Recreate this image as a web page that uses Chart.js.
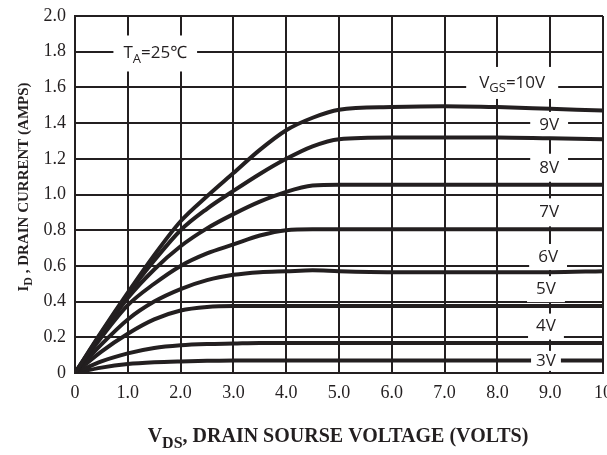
<!DOCTYPE html>
<html>
<head>
<meta charset="utf-8">
<script src="https://cdn.jsdelivr.net/npm/chart.js@4.4.1/dist/chart.umd.min.js"></script>
<style>
  html, body { margin: 0; padding: 0; background: #fff; }
  #wrap { width: 607px; height: 455px; }
</style>
</head>
<body>
<div id="wrap"><canvas id="c" width="607" height="455"></canvas></div>
<script>
// ---- data ----
const vds = [0, 0.5, 1, 1.5, 2, 2.5, 3, 3.5, 4, 4.5, 5, 6, 7, 8, 9, 10];
const id10V = [0, 0.23, 0.45, 0.66, 0.85, 0.99, 1.12, 1.25, 1.36, 1.43, 1.475, 1.49, 1.495, 1.49, 1.48, 1.47];
const id9V  = [0, 0.225, 0.44, 0.63, 0.80, 0.92, 1.02, 1.115, 1.20, 1.27, 1.31, 1.32, 1.32, 1.32, 1.315, 1.31];
const id8V  = [0, 0.215, 0.42, 0.58, 0.71, 0.81, 0.89, 0.96, 1.015, 1.05, 1.055, 1.055, 1.055, 1.055, 1.055, 1.055];
const id7V  = [0, 0.20, 0.38, 0.50, 0.60, 0.67, 0.72, 0.77, 0.80, 0.805, 0.805, 0.805, 0.805, 0.805, 0.805, 0.805];
const id6V  = [0, 0.16, 0.30, 0.40, 0.47, 0.52, 0.55, 0.565, 0.57, 0.575, 0.57, 0.565, 0.565, 0.565, 0.565, 0.57];
const id5V  = [0, 0.12, 0.22, 0.30, 0.35, 0.37, 0.375, 0.375, 0.375, 0.375, 0.375, 0.375, 0.375, 0.375, 0.375, 0.375];
const id4V  = [0, 0.065, 0.11, 0.14, 0.155, 0.162, 0.165, 0.168, 0.168, 0.168, 0.168, 0.168, 0.168, 0.168, 0.168, 0.168];
const id3V  = [0, 0.03, 0.05, 0.06, 0.065, 0.068, 0.07, 0.07, 0.07, 0.07, 0.07, 0.07, 0.07, 0.07, 0.07, 0.07];
const seriesNames = ['10V', '9V', '8V', '7V', '6V', '5V', '4V', '3V'];
const seriesValues = [id10V, id9V, id8V, id7V, id6V, id5V, id4V, id3V];
const xTickLabels = ['0', '1.0', '2.0', '3.0', '4.0', '5.0', '6.0', '7.0', '8.0', '9.0', '10'];
const yTickLabels = ['0', '0.2', '0.4', '0.6', '0.8', '1.0', '1.2', '1.4', '1.6', '1.8', '2.0'];

// ---- styles ----
const INK = '#231f20';
const SANS = '"Open Sans", "Noto Sans", sans-serif';
const SERIF = '"Liberation Serif", "Times New Roman", serif';
const LABEL_SIZE = 17;

// annotation labels (parts: [text, isSub]) at data coordinates
const curveLabels = [
  { parts: [['V', 0], ['GS', 1], ['=10V', 0]], x: 8.28, y: 1.625, padX: 13, h: 32, front: false },
  { parts: [['9V', 0]], x: 8.98, y: 1.39, padX: 9, h: 26, front: false },
  { parts: [['8V', 0]], x: 8.98, y: 1.15, padX: 9, h: 28, front: false },
  { parts: [['7V', 0]], x: 8.98, y: 0.90, padX: 9, h: 28, front: false },
  { parts: [['6V', 0]], x: 8.96, y: 0.65, padX: 9, h: 26, front: false },
  { parts: [['5V', 0]], x: 8.92, y: 0.47, padX: 9, h: 26, front: false },
  { parts: [['4V', 0]], x: 8.92, y: 0.26, padX: 8, h: 26, front: false },
  { parts: [['3V', 0]], x: 8.92, y: 0.068, padX: 5, h: 20, front: true },
  { parts: [['T', 0], ['A', 1], ['=25\u2103', 0]], x: 1.52, y: 1.79, padX: 10, h: 36, front: false }
];

function richWidth(ctx, parts, size, family, weight) {
  let w = 0;
  for (const [t, sub] of parts) {
    ctx.font = (weight || '') + ' ' + (sub ? Math.round(size * 0.78) : size) + 'px ' + family;
    w += ctx.measureText(t).width;
  }
  return w;
}
function drawRich(ctx, parts, cx, cy, size, family, weight) {
  const total = richWidth(ctx, parts, size, family, weight);
  let x = cx - total / 2;
  ctx.textAlign = 'left';
  ctx.textBaseline = 'middle';
  for (const [t, sub] of parts) {
    const s = sub ? Math.round(size * 0.78) : size;
    ctx.font = (weight || '') + ' ' + s + 'px ' + family;
    ctx.fillText(t, x, cy + (sub ? size * 0.32 : 0));
    x += ctx.measureText(t).width;
  }
  return total;
}
function drawLabels(chart, front) {
  const ctx = chart.ctx;
  const xs = chart.scales.x, ys = chart.scales.y;
  ctx.save();
  for (const L of curveLabels) {
    if (L.front !== front) continue;
    const cx = xs.getPixelForValue(L.x), cy = ys.getPixelForValue(L.y);
    const w = richWidth(ctx, L.parts, LABEL_SIZE, SANS, '');
    ctx.fillStyle = '#fff';
    ctx.fillRect(cx - w / 2 - L.padX, cy - L.h / 2, w + 2 * L.padX, L.h);
    ctx.fillStyle = INK;
    drawRich(ctx, L.parts, cx, cy, LABEL_SIZE, SANS, '');
  }
  ctx.restore();
}

const annotatePlugin = {
  id: 'annotate',
  beforeDatasetsDraw(chart) { drawLabels(chart, false); },
  afterDatasetsDraw(chart) { drawLabels(chart, true); },
  afterDraw(chart) {
    const ctx = chart.ctx;
    const a = chart.chartArea;
    ctx.save();
    ctx.fillStyle = INK;
    // x axis title
    drawRich(ctx, [['V', 0], ['DS', 1], [', DRAIN SOURSE VOLTAGE (VOLTS)', 0]],
      (a.left + a.right) / 2 - 1, 437, 20, SERIF, 'bold');
    // y axis title (rotated)
    ctx.translate(24, 187);
    ctx.rotate(-Math.PI / 2);
    drawRich(ctx, [['I', 0], ['D', 1], [' , DRAIN CURRENT (AMPS)', 0]], 0, 0, 15, SERIF, 'bold');
    ctx.restore();
  }
};

const datasets = seriesNames.map((name, i) => ({
  label: 'VGS=' + name,
  data: vds.map((v, j) => ({ x: v, y: seriesValues[i][j] })),
  borderColor: INK,
  borderWidth: 4,
  pointRadius: 0,
  fill: false,
  cubicInterpolationMode: 'monotone'
}));

new Chart(document.getElementById('c'), {
  type: 'line',
  data: { datasets },
  plugins: [annotatePlugin],
  options: {
    responsive: false,
    animation: false,
    layout: { padding: { left: 0, right: 4, top: 16, bottom: 0 } },
    plugins: { legend: { display: false }, tooltip: { enabled: false } },
    scales: {
      x: {
        type: 'linear', min: 0, max: 10,
        ticks: {
          stepSize: 1, padding: 9, color: INK,
          font: { family: SERIF, size: 18 },
          maxRotation: 0, autoSkip: false,
          callback: (v) => xTickLabels[Math.round(v)]
        },
        grid: { color: INK, lineWidth: 2, drawTicks: false },
        border: { color: INK, width: 2 },
        afterFit: (s) => { s.height = 82; s.paddingLeft = 0; s.paddingRight = 0; }
      },
      y: {
        type: 'linear', min: 0, max: 2.0,
        ticks: {
          stepSize: 0.2, padding: 9, color: INK,
          font: { family: SERIF, size: 18 },
          callback: (v) => yTickLabels[Math.round(v * 5)]
        },
        grid: { color: INK, lineWidth: 2, drawTicks: false },
        border: { color: INK, width: 2 },
        afterFit: (s) => { s.width = 75; s.paddingTop = 0; s.paddingBottom = 0; }
      }
    }
  }
});
</script>
</body>
</html>
